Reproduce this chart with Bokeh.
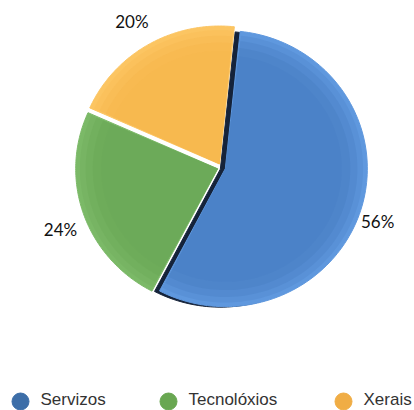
import numpy as np
from bokeh.plotting import figure
from bokeh.models import Range1d, ColumnDataSource
from bokeh.core.properties import value
from bokeh.embed import file_html
from bokeh.resources import INLINE

# ---- data ----
categories = ["Servizos", "Tecnolóxios", "Xerais"]
shares = [56, 24, 20]
pct_labels = ["56%", "24%", "20%"]
fill_colors = ["#4b82c7", "#6caa59", "#f7b84f"]
rim_colors = ["#5f98de", "#7bb967", "#fcc562"]
legend_colors = ["#3d6ea8", "#69a752", "#f0ad45"]

# ---- layout (pixels of the figure) ----
W, H = 414, 410
cx, cy = 221, 167
rx, ry = 142, 138
explode = 4
start_deg = 6.0
label_nudge_x = [-4, -3, -6]
label_nudge_y = [7, 8, -5]

p = figure(width=W, height=H, x_range=Range1d(0, W), y_range=Range1d(H, 0),
           output_backend="svg", toolbar_location=None, min_border=0,
           background_fill_color="white", border_fill_color="white")
p.axis.visible = False
p.grid.visible = False
p.outline_line_color = None

total = float(sum(shares))
angles = np.cumsum([0] + [s / total * 360.0 for s in shares]) + start_deg


def slice_poly(a0, a1, ox, oy, scale=1.0):
    th = np.radians(np.linspace(a0, a1, 120))
    xs = [ox] + list(ox + scale * rx * np.sin(th))
    ys = [oy] + list(oy - scale * ry * np.cos(th))
    return xs, ys


label_x, label_y = [], []
for i, s in enumerate(shares):
    a0, a1 = angles[i], angles[i + 1]
    mid = np.radians((a0 + a1) / 2)
    ox = cx + explode * np.sin(mid)
    oy = cy - explode * np.cos(mid)
    if i == 0:
        # dark side face of the big slice
        xs, ys = slice_poly(a0, a1, ox - 5, oy + 0.5)
        p.patch(xs, ys, fill_color="#15233a", line_color="#15233a", line_width=1)
    xs, ys = slice_poly(a0, a1, ox, oy)
    p.patch(xs, ys, fill_color=rim_colors[i], line_color=rim_colors[i], line_width=1)
    for k, sc in enumerate([0.97, 0.93, 0.88, 0.82]):
        xs, ys = slice_poly(a0 + 0.5, a1 - 0.5, ox, oy, sc)
        p.patch(xs, ys, fill_color=fill_colors[i], fill_alpha=0.3 + 0.15 * k,
                line_color=None)
    label_x.append(ox + 1.15 * rx * np.sin(mid) + label_nudge_x[i])
    label_y.append(oy - 1.15 * ry * np.cos(mid) + label_nudge_y[i])

lab_src = ColumnDataSource(dict(x=label_x, y=label_y, t=pct_labels))
p.text(x="x", y="y", text="t", source=lab_src, text_font=value("Lato"),
       text_font_size="17px", text_color="#111111", text_align="center",
       text_baseline="middle")

# ---- legend ----
leg_cx = [20, 168, 343]
leg_src = ColumnDataSource(dict(x=leg_cx, y=[401, 401, 401], ty=[399, 399, 399],
                                c=legend_colors,
                                tx=[x + 20 for x in leg_cx], t=categories))
p.scatter(x="x", y="y", source=leg_src, size=17, marker="circle",
          fill_color="c", line_color="c")
p.text(x="tx", y="ty", text="t", source=leg_src, text_font=value("Liberation Sans"),
       text_font_size="17px", text_color="#333333", text_align="left",
       text_baseline="middle")

open("out.html", "w").write(file_html(p, INLINE))
